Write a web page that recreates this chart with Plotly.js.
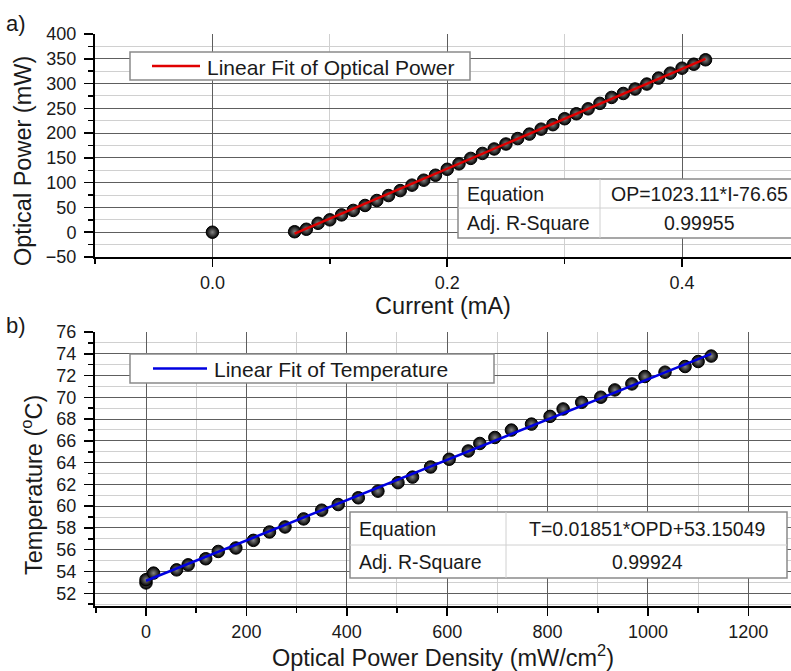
<!DOCTYPE html>
<html>
<head>
<meta charset="utf-8">
<script src="https://cdn.plot.ly/plotly-3.0.1.min.js"></script>
<style>
  html, body { margin: 0; padding: 0; background: #ffffff; }
  #chart { width: 791px; height: 671px; }
</style>
</head>
<body>
<div id="chart"></div>
<script>
// ---------- data ----------
// a) Optical power vs current
const currentMA = [0, 0.07, 0.08, 0.09, 0.10, 0.11, 0.12, 0.13, 0.14, 0.15, 0.16,
  0.17, 0.18, 0.19, 0.20, 0.21, 0.22, 0.23, 0.24, 0.25, 0.26,
  0.27, 0.28, 0.29, 0.30, 0.31, 0.32, 0.33, 0.34, 0.35, 0.36,
  0.37, 0.38, 0.39, 0.40, 0.41, 0.42];
const opticalPowerMW = [0, 1, 6, 18, 25, 35, 44, 54, 64, 74, 84,
  95, 105, 115, 127, 138, 149, 159, 168, 178, 189,
  198, 208, 217, 229, 239, 249, 260, 272, 280, 289,
  299, 311, 321, 331, 339, 348];
const fitCurrentMA = [0.07, 0.42];
const fitOpticalPowerMW = [-3, 350];

// b) Temperature vs optical power density
const powerDensity = [0, 0, 15, 61, 84, 119, 144, 179, 214, 246, 277, 314, 350, 383, 423,
  462, 502, 531, 567, 604, 642, 665, 695, 728, 768, 805, 831, 868, 906,
  934, 968, 994, 1034, 1074, 1100, 1126];
const temperatureC = [52.95, 53.25, 53.85, 54.15, 54.61, 55.17, 55.84, 56.16, 56.86, 57.63, 58.09,
  58.83, 59.63, 60.15, 60.77, 61.38, 62.16, 62.67, 63.60, 64.31, 65.07, 65.76,
  66.31, 66.99, 67.54, 68.25, 68.93, 69.54, 70.01, 70.68, 71.23, 71.91, 72.31,
  72.83, 73.29, 73.79];
const fitPowerDensity = [0, 1126];
const fitTemperatureC = [53.15, 73.99];

// legend labels and fit tables
const legendA = "Linear Fit of Optical Power";
const legendB = "Linear Fit of Temperature";
const tableA = [["Equation", "OP=1023.11*I-76.65"], ["Adj. R-Square", "0.99955"]];
const tableB = [["Equation", "T=0.01851*OPD+53.15049"], ["Adj. R-Square", "0.99924"]];

// ---------- layout helpers ----------
const W = 791, H = 671;
const M = {l: 95, r: 0, t: 34, b: 65};
const PW = W - M.l - M.r, PH = H - M.t - M.b;
const px = v => (v - M.l) / PW;          // pixel x -> paper
const py = v => (H - M.b - v) / PH;      // pixel y -> paper

const FONT = "Liberation Sans, Arial, Helvetica, sans-serif";
const TXT = '#1a1a1a';
const TITLE_SIZE = 23.5;
const markerStyle = {
  size: 12.5, color: '#000000',
  gradient: {type: 'radial', color: '#858585'},
  line: {color: '#000000', width: 1}
};

const traces = [
  {x: currentMA, y: opticalPowerMW, type: 'scatter', mode: 'markers',
   marker: markerStyle, xaxis: 'x', yaxis: 'y', showlegend: false, name: 'Optical Power'},
  {x: fitCurrentMA, y: fitOpticalPowerMW, type: 'scatter', mode: 'lines',
   line: {color: '#e00000', width: 2.5}, xaxis: 'x', yaxis: 'y', showlegend: false,
   name: legendA},
  {x: powerDensity, y: temperatureC, type: 'scatter', mode: 'markers',
   marker: markerStyle, xaxis: 'x2', yaxis: 'y2', showlegend: false, name: 'Temperature'},
  {x: fitPowerDensity, y: fitTemperatureC, type: 'scatter', mode: 'lines',
   line: {color: '#0000e0', width: 2.5}, xaxis: 'x2', yaxis: 'y2', showlegend: false,
   name: legendB}
];

const gridMajor = '#5e5e5e', gridMinor = '#d0d0d0';
function minorOf(d) {
  return {dtick: d, ticks: 'outside', ticklen: 5, tickwidth: 1.5, tickcolor: '#000',
          showgrid: true, gridcolor: gridMinor, gridwidth: 1};
}
function axisBase(extra) {
  return Object.assign({
    showline: true, linecolor: '#000', linewidth: 2,
    ticks: 'outside', ticklen: 9, tickwidth: 1.5, tickcolor: '#000',
    showgrid: true, gridcolor: gridMajor, gridwidth: 1,
    zeroline: false, automargin: false,
    tickfont: {family: FONT, size: 18, color: TXT}
  }, extra);
}

const layout = {
  width: W, height: H,
  margin: M,
  showlegend: false,
  paper_bgcolor: '#fff', plot_bgcolor: '#fff',
  font: {family: FONT, color: TXT},
  xaxis: axisBase({domain: [0, 1], anchor: 'y', range: [-0.1, 0.4928],
    tick0: 0, dtick: 0.2, tickformat: '.1f', ticklen: 8, ticklabelstandoff: 0,
    minor: minorOf(0.1),
    title: {text: 'Current (mA)', font: {family: FONT, size: TITLE_SIZE, color: TXT}, standoff: 5}}),
  yaxis: axisBase({domain: [py(257), 1], anchor: 'x', range: [-50, 400],
    tick0: 0, dtick: 50, ticklabelstandoff: 4, minor: minorOf(25)}),
  xaxis2: axisBase({domain: [0, 1], anchor: 'y2', range: [-101.6, 1285],
    tick0: 0, dtick: 200, ticklen: 8, ticklabelstandoff: 0,
    minor: minorOf(100),
    title: {text: 'Optical Power Density (mW/cm<sup>2</sup>)', font: {family: FONT, size: TITLE_SIZE, color: TXT}, standoff: 2}}),
  yaxis2: axisBase({domain: [0, py(332)], anchor: 'x2', range: [50.83, 76],
    tick0: 0, dtick: 2, ticklabelstandoff: 4, minor: minorOf(1)}),
  shapes: [],
  annotations: []
};

// y-axis titles and panel labels
layout.annotations.push(
  {text: 'Optical Power (mW)', xref: 'paper', yref: 'paper', x: px(23), y: py(161),
   xanchor: 'center', yanchor: 'middle',
   textangle: -90, showarrow: false, font: {family: FONT, size: TITLE_SIZE, color: TXT}},
  {text: 'Temperature (<sup>o</sup>C)', xref: 'paper', yref: 'paper', x: px(32), y: py(485),
   xanchor: 'center', yanchor: 'middle',
   textangle: -90, showarrow: false, font: {family: FONT, size: TITLE_SIZE, color: TXT}},
  {text: 'a)', xref: 'paper', yref: 'paper', x: px(4), y: py(24), xanchor: 'left',
   yanchor: 'middle', showarrow: false, font: {family: FONT, size: 22, color: TXT}},
  {text: 'b)', xref: 'paper', yref: 'paper', x: px(4), y: py(325), xanchor: 'left',
   yanchor: 'middle', showarrow: false, font: {family: FONT, size: 22, color: TXT}}
);

// legend boxes (drawn with shapes + text)
function addLegend(label, color, x0, x1, y0, y1, lx0, lx1, tx) {
  const ym = (y0 + y1) / 2;
  layout.shapes.push(
    {type: 'rect', xref: 'paper', yref: 'paper', x0: px(x0), x1: px(x1), y0: py(y0), y1: py(y1),
     fillcolor: '#fff', line: {color: '#8a8a8a', width: 1.5}, layer: 'above'},
    {type: 'line', xref: 'paper', yref: 'paper', x0: px(lx0), x1: px(lx1), y0: py(ym), y1: py(ym),
     line: {color: color, width: 2.5}, layer: 'above'}
  );
  layout.annotations.push(
    {text: label, xref: 'paper', yref: 'paper', x: px(tx), y: py(ym + 1),
     xanchor: 'left', yanchor: 'middle', showarrow: false,
     font: {family: FONT, size: 21, color: TXT}}
  );
}
addLegend(legendA, '#e00000', 130, 470, 52, 80, 152, 200, 205);
addLegend(legendB, '#0000e0', 130, 494, 354, 383, 153, 207, 212);

// fit tables as shapes + text
function addTable(rows, x0, x1, xd, y0, y1, yd, leftPad, valueCenter) {
  layout.shapes.push(
    {type: 'rect', xref: 'paper', yref: 'paper', x0: px(x0), x1: px(x1), y0: py(y0), y1: py(y1),
     fillcolor: '#fff', line: {color: '#8a8a8a', width: 1.5}, layer: 'above'},
    {type: 'line', xref: 'paper', yref: 'paper', x0: px(xd), x1: px(xd), y0: py(y0), y1: py(y1),
     line: {color: '#d0d0d0', width: 1}, layer: 'above'},
    {type: 'line', xref: 'paper', yref: 'paper', x0: px(x0), x1: px(x1), y0: py(yd), y1: py(yd),
     line: {color: '#d0d0d0', width: 1}, layer: 'above'}
  );
  const rowMid = [(y0 + yd) / 2, (yd + y1) / 2];
  rows.forEach((r, i) => {
    layout.annotations.push(
      {text: r[0], xref: 'paper', yref: 'paper', x: px(x0 + leftPad), y: py(rowMid[i]),
       xanchor: 'left', yanchor: 'middle', showarrow: false,
       font: {family: FONT, size: 19.5, color: TXT}},
      {text: r[1], xref: 'paper', yref: 'paper', x: px(valueCenter), y: py(rowMid[i]),
       xanchor: 'center', yanchor: 'middle', showarrow: false,
       font: {family: FONT, size: 19.5, color: TXT}}
    );
  });
}
addTable(tableA, 458, 792, 600, 179, 238, 208, 7, 699);
addTable(tableB, 350, 787, 506, 512, 578, 545, 7, 647);

Plotly.newPlot('chart', traces, layout, {staticPlot: true, displayModeBar: false});
</script>
</body>
</html>
